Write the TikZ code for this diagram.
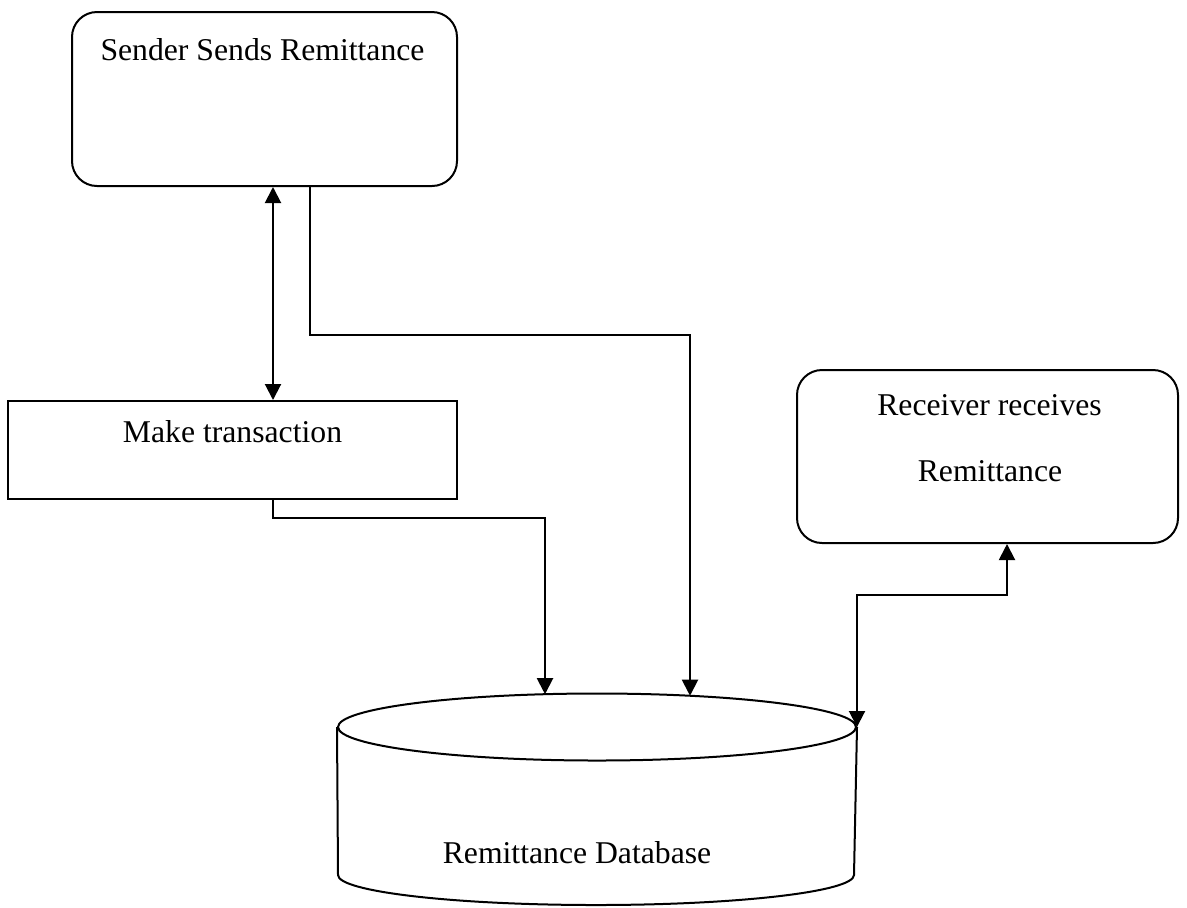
\documentclass[tikz,border=0pt]{standalone}
\usepackage{fontspec}
\setmainfont{Liberation Serif}
\usetikzlibrary{arrows.meta,shapes.geometric}
\begin{document}
\begin{tikzpicture}[x=0.5pt,y=-0.5pt,
  line width=1pt,
  every node/.style={font=\fontsize{15.85}{19}\selectfont},
  procbox/.style={draw,rounded corners=12.5pt,inner sep=0pt},
  plainbox/.style={draw,inner sep=0pt},
  lbl/.style={anchor=base,inner sep=0pt},
  flow/.style={-{Triangle[width=8pt,length=8pt]}},
  bothflow/.style={{Triangle[width=8pt,length=8pt]}-{Triangle[width=8pt,length=8pt]}}]
\useasboundingbox (0,0) rectangle (1187,907);

% boxes
\node[procbox,minimum width=192.5pt,minimum height=87pt] (sender) at (264.5,99) {};
\node[lbl] (sendertxt) at (262.5,60) {Sender Sends Remittance};

\node[plainbox,minimum width=224.5pt,minimum height=49pt] (make) at (232.5,450) {};
\node[lbl] (maketxt) at (232.5,442) {Make transaction};

\node[procbox,minimum width=190.5pt,minimum height=86.5pt] (receiver) at (987.5,456.5) {};
\node[lbl] (rectxtA) at (989.5,415) {Receiver receives};
\node[lbl] (rectxtB) at (990,481) {Remittance};

% database cylinder
\node[draw,ellipse,inner sep=0pt,minimum width=259pt,minimum height=33.5pt] (dbtop) at (597,727) {};
\draw (dbtop.west) -- (338,875)
  arc[start angle=180,end angle=360,x radius=129pt,y radius=15pt]
  -- (dbtop.east);
\node[lbl] (dbtxt) at (577,863) {Remittance Database};

% routing points
\coordinate (colA) at (273,0);
\coordinate (colB) at (310,0);
\coordinate (colC) at (1007,0);
\coordinate (row1) at (0,335);
\coordinate (row2) at (0,518);
\coordinate (row3) at (0,595);
\coordinate (dbinA) at (690,695.7);
\coordinate (dbinB) at (545,694.2);

% connectors
\draw[bothflow] (sender.south -| colA) -- (make.north -| colA);
\draw[flow] (sender.south -| colB) -- (colB |- row1) -| (dbinA);
\draw[flow] (make.south -| colA) -- (colA |- row2) -| (dbinB);
\draw[bothflow] (dbtop.east) -- (dbtop.east |- row3) -| (receiver.south -| colC);
\end{tikzpicture}
\end{document}
